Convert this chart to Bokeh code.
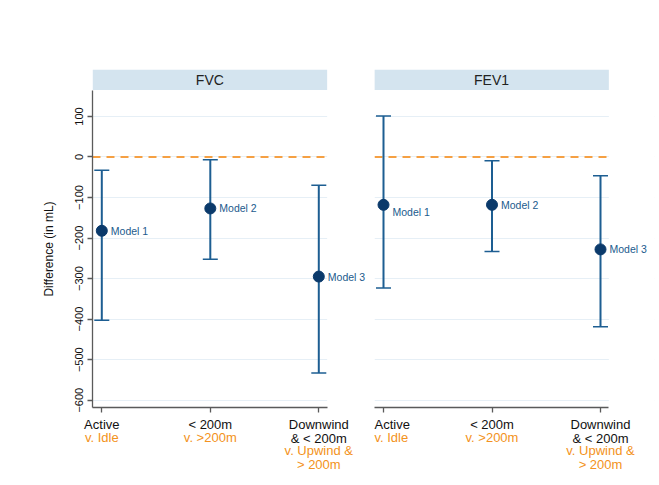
from bokeh.plotting import figure
from bokeh.layouts import column, row
from bokeh.models import (Range1d, FixedTicker, Span, Whisker, TeeHead,
                          ColumnDataSource, LabelSet, LinearAxis,
                          BoxAnnotation)
from bokeh.core.properties import value
from bokeh.embed import file_html
from bokeh.resources import INLINE

# ---- data ----
panels = ["FVC", "FEV1"]
categories = ["Active", "< 200m", "Downwind\n& < 200m"]
comparisons = ["v. Idle", "v. >200m", " \nv. Upwind &\n> 200m"]
models = ["Model 1", "Model 2", "Model 3"]
fvc_est = [-182, -127, -295]
fvc_lo = [-403, -252, -533]
fvc_hi = [-33, -7, -70]
fev1_est = [-118, -118, -228]
fev1_lo = [-323, -233, -419]
fev1_hi = [101, -9, -46]
y_ticks = [100, 0, -100, -200, -300, -400, -500, -600]

FONT = "Liberation Sans"
ORANGE = "#f39220"
DASH = "#f5a043"
NAVY = "#0b3a6b"
BAR = "#1d5e92"
LABEL_BLUE = "#1b5b8d"
STRIP = "#d4e4ef"
GRID = "#e6eff6"
AXIS = "#5a5a5a"

est_sets = [fvc_est, fev1_est]
lo_sets = [fvc_lo, fev1_lo]
hi_sets = [fvc_hi, fev1_hi]

xpos = [1, 2, 3]
PX_PER_X = 108.5
PANEL_LO, PANEL_HI = 0.915, 3.077
FRAME_H = 317
# (left border, frame width incl. free space on the right, right border)
geometry = [(92, 282, 0), (0, 280, 3)]

y_range = Range1d(-618, 164)


def make_strip(k, x_range):
    bl, fw, br = geometry[k]
    s = figure(width=bl + fw + br, height=69 + 21, x_range=x_range,
               y_range=Range1d(0, 1), output_backend="svg",
               toolbar_location=None, min_border_left=bl, min_border_right=br,
               min_border_top=69, min_border_bottom=0, x_axis_location=None,
               y_axis_location=None, background_fill_color="white",
               border_fill_color="white", outline_line_color=None)
    s.xgrid.visible = False
    s.ygrid.visible = False
    s.quad(left=[PANEL_LO], right=[PANEL_HI], bottom=0, top=1,
           fill_color=STRIP, line_color=None)
    s.text(x=[(PANEL_LO + PANEL_HI) / 2], y=[0.5], text=[panels[k]],
           text_align="center", text_baseline="middle",
           text_font=value(FONT), text_font_size="14px", text_color="#222222")
    return s


def make_panel(k, x_range):
    bl, fw, br = geometry[k]
    p = figure(width=bl + fw + br, height=FRAME_H + 70, x_range=x_range,
               y_range=y_range, output_backend="svg", toolbar_location=None,
               min_border_left=bl, min_border_right=br, min_border_top=0,
               min_border_bottom=70,
               y_axis_location="left" if k == 0 else None,
               background_fill_color="white", border_fill_color="white",
               outline_line_color=None)
    p.xgrid.visible = False
    p.ygrid.ticker = FixedTicker(ticks=y_ticks)
    p.ygrid.grid_line_color = GRID
    p.ygrid.grid_line_width = 1.2

    # zero reference line, hidden outside the panel by the white box
    p.add_layout(Span(location=0, dimension="width", line_color=DASH,
                      line_dash="8 6", line_width=1.8, level="underlay"))
    p.add_layout(BoxAnnotation(left=PANEL_HI, right=x_range.end + 1,
                               fill_color="white", fill_alpha=1,
                               line_color=None, level="underlay"))

    if k == 0:
        ya = p.yaxis[0]
        ya.ticker = FixedTicker(ticks=y_ticks)
        ya.minor_tick_line_color = None
        ya.axis_line_color = AXIS
        ya.axis_line_width = 1.3
        ya.major_tick_line_color = AXIS
        ya.major_tick_line_width = 1.3
        ya.major_tick_in = 0
        ya.major_tick_out = 5
        ya.major_label_orientation = "vertical"
        ya.major_label_standoff = 4
        ya.major_label_text_font = FONT
        ya.major_label_text_font_size = "11px"
        ya.major_label_text_color = "#111111"
        ya.axis_label = "Difference (in mL)"
        ya.axis_label_text_font = FONT
        ya.axis_label_text_font_style = "normal"
        ya.axis_label_text_font_size = "12px"
        ya.axis_label_text_color = "#111111"
        ya.axis_label_standoff = 17

    # black category axis
    xa = p.xaxis[0]
    xa.ticker = FixedTicker(ticks=xpos)
    xa.bounds = (PANEL_LO, PANEL_HI)
    xa.major_label_overrides = {x: c for x, c in zip(xpos, categories)}
    xa.minor_tick_line_color = None
    xa.axis_line_color = AXIS
    xa.axis_line_width = 1.3
    xa.major_tick_line_color = AXIS
    xa.major_tick_line_width = 1.3
    xa.major_tick_in = 0
    xa.major_tick_out = 5
    xa.major_label_standoff = 4
    xa.major_label_text_font = FONT
    xa.major_label_text_font_size = "13px"
    xa.major_label_text_color = "#111111"
    xa.major_label_text_line_height = 0.95

    # orange comparison axis, pulled up under the category labels
    ox = LinearAxis(ticker=FixedTicker(ticks=xpos))
    p.add_layout(ox, "below")
    ox.major_label_overrides = {x: c for x, c in zip(xpos, comparisons)}
    ox.minor_tick_line_color = None
    ox.axis_line_color = None
    ox.major_tick_line_color = None
    ox.major_tick_in = 0
    ox.major_tick_out = 0
    ox.major_label_standoff = -19
    ox.major_label_text_font = FONT
    ox.major_label_text_font_size = "13px"
    ox.major_label_text_color = ORANGE
    ox.major_label_text_line_height = 0.9

    src = ColumnDataSource(dict(x=xpos, est=est_sets[k], lo=lo_sets[k],
                                hi=hi_sets[k], lab=models,
                                yoff=[(-7 if (k == 1 and j == 0) else 0)
                                      for j in range(3)]))
    p.add_layout(Whisker(base="x", upper="hi", lower="lo", source=src,
                         dimension="height", line_color=BAR, line_width=2,
                         upper_head=TeeHead(size=15, line_color=BAR,
                                            line_width=1.5),
                         lower_head=TeeHead(size=15, line_color=BAR,
                                            line_width=1.5)))
    p.scatter(x="x", y="est", source=src, size=11, fill_color=NAVY,
              line_color=NAVY)
    p.add_layout(LabelSet(x="x", y="est", text="lab", source=src, x_offset=9,
                          y_offset="yoff", text_baseline="middle",
                          text_align="left", text_font=value(FONT),
                          text_font_size="10.5px", text_color=LABEL_BLUE))
    return p


cols = []
for k in range(2):
    bl, fw, br = geometry[k]
    start = 1 - (9.3 if k == 0 else 9.0) / PX_PER_X
    xr = Range1d(start, start + fw / PX_PER_X)
    cols.append(column(make_strip(k, xr), make_panel(k, xr), spacing=0))

layout = row(*cols, spacing=0)

open("out.html", "w").write(file_html(layout, INLINE))
